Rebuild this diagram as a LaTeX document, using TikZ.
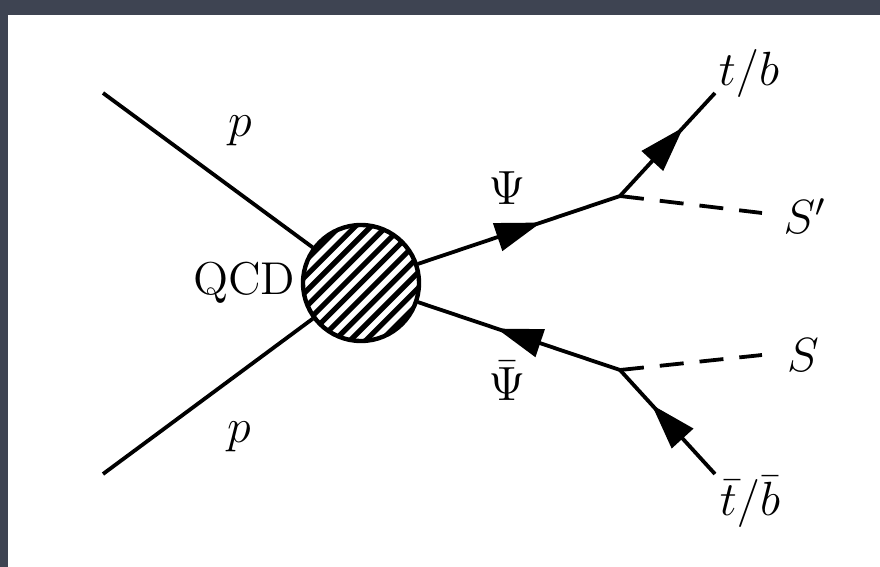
\documentclass[tikz,border=0pt]{standalone}
\usetikzlibrary{decorations.markings}
\definecolor{bgdark}{RGB}{62,68,82}
\begin{document}
\begin{tikzpicture}[x=0.25pt,y=-0.25pt,
  line width=0.95pt,
  fermion/.style={postaction={decorate},decoration={markings,mark=at position 0.5 with {\fill (5.8pt,0) -- (-5.6pt,3.7pt) -- (-5.6pt,-3.7pt) -- cycle;}}},
  scalar/.style={dash pattern=on 6pt off 4pt},
  lbl/.style={font=\fontsize{11.5}{14}\selectfont, inner sep=0pt},
  blobstyle/.style={circle, minimum size=29pt, inner sep=0pt, fill=white}]
\fill[bgdark] (0,0) rectangle (880,567);
\fill[white] (8,15) rectangle (880,567);
\useasboundingbox (0,0) rectangle (880,567);

\node[blobstyle] (blob) at (361,283) {};
\coordinate (pa) at (103,93);
\coordinate (pb) at (103,474);
\coordinate (v1) at (620,196);
\coordinate (v2) at (620,370);
\coordinate (tb) at (715,93);
\coordinate (tbb) at (715,474);
\coordinate (sp) at (762,213);
\coordinate (s) at (762,355);

\draw (pa) -- (blob);
\draw (pb) -- (blob);
\draw[fermion] (blob) -- (v1);
\draw[fermion] (v2) -- (blob);
\draw[fermion] (v1) -- (tb);
\draw[fermion] (tbb) -- (v2);
\draw[scalar] (v1) -- (sp);
\draw[scalar] (v2) -- (s);

\begin{scope}[shift={(blob.center)}]
  \clip (0,0) circle (14.5pt);
  \foreach \i in {-6,...,6}
    \draw[line width=1.3pt, rotate=45] (-20pt,\i*2.75pt) -- (20pt,\i*2.75pt);
\end{scope}
\draw[line width=1.1pt] (blob.center) circle (14.5pt);

\node[lbl] (lp1) at (240,131) {$p$};
\node[lbl] (lp2) at (239,437) {$p$};
\node[lbl, anchor=base east] (lqcd) at (297,295) {QCD};
\node[lbl] (lpsi) at (507,188) {$\Psi$};
\node[lbl] (lpsib) at (507,381) {$\bar\Psi$};
\node[lbl] (ltb) at (749,73) {$t/b$};
\node[lbl] (lsp) at (805,216) {$S'$};
\node[lbl] (ls) at (803,355) {$S$};
\node[lbl] (ltbb) at (750,502) {$\bar t/\bar b$};
\end{tikzpicture}
\end{document}
